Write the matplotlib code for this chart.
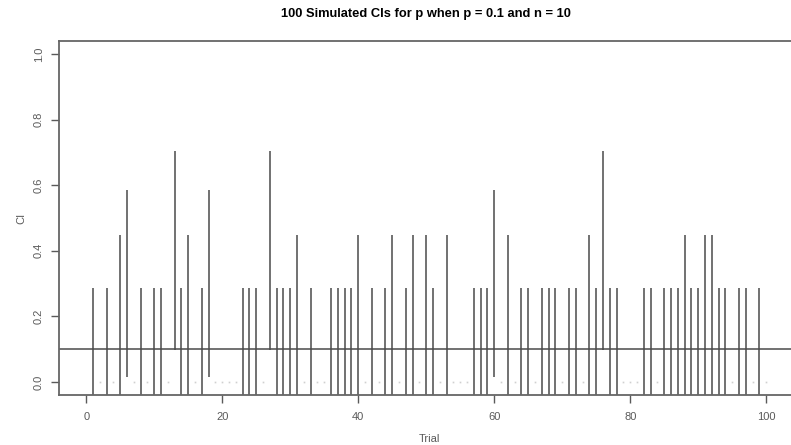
import matplotlib.pyplot as plt
import numpy as np

plt.rcParams['font.family'] = ['Liberation Sans', 'DejaVu Sans']

# successes (out of n = 10) for each of the 100 simulated trials
trials = list(range(1, 101))
successes = [1, 0, 1, 0, 2, 3, 0, 1, 0, 1,
             1, 0, 4, 1, 2, 0, 1, 3, 0, 0,
             0, 0, 1, 1, 1, 0, 4, 1, 1, 1,
             2, 0, 1, 0, 0, 1, 1, 1, 1, 2,
             0, 1, 0, 1, 2, 0, 1, 2, 0, 2,
             1, 0, 2, 0, 0, 0, 1, 1, 1, 3,
             0, 2, 0, 1, 1, 0, 1, 1, 1, 0,
             1, 1, 0, 2, 1, 4, 1, 1, 0, 0,
             0, 1, 1, 0, 1, 1, 1, 2, 1, 1,
             2, 2, 1, 1, 0, 1, 1, 0, 1, 0]

# CI bounds, indexed by number of successes
ci_lower = [0.0, -0.086, -0.048, 0.016, 0.096]
ci_upper = [0.0, 0.286, 0.448, 0.584, 0.704]
true_p = 0.1

lo = np.array([ci_lower[k] for k in successes])
hi = np.array([ci_upper[k] for k in successes])
x = np.array(trials)

W, H = 791, 445
fig = plt.figure(figsize=(W / 100, H / 100), dpi=100)
ax = fig.add_axes([59 / W, (H - 395) / H, (793.5 - 59) / W, (395 - 41) / H])

grey = '#5a5a5a'
nz = lo != hi
ax.vlines(x[nz], lo[nz], hi[nz], color='#4a4a4a', lw=1.1)
ax.plot(x[~nz], lo[~nz], ls='none', marker='s', ms=1.2, color='#d0d0d0', mec='none')
ax.axhline(true_p, color='#4a4a4a', lw=1.1)

ax.set_xlim(-4, 104)
ax.set_ylim(-0.04, 1.04)
ax.set_xticks([0, 20, 40, 60, 80, 100])
ax.set_yticks([0.0, 0.2, 0.4, 0.6, 0.8, 1.0])
ax.set_yticklabels(['0.0', '0.2', '0.4', '0.6', '0.8', '1.0'], rotation=90, va='center')
ax.tick_params(colors=grey, labelcolor=grey, labelsize=8, length=6, width=1)
ax.tick_params(axis='y', pad=5)
ax.tick_params(axis='x', pad=6)
for s in ax.spines.values():
    s.set_color('#666666')
    s.set_linewidth(1.3)

ax.set_title('100 Simulated CIs for p when p = 0.1 and n = 10', fontsize=9.3,
             fontweight='bold', pad=17)
fig.text(429 / W, 1 - 439 / H, 'Trial', ha='center', va='center', fontsize=8, color=grey)
fig.text(21 / W, 1 - 218 / H, 'CI', ha='center', va='center', fontsize=8, color=grey,
         rotation=90)

fig.savefig('out.png', dpi=100)
